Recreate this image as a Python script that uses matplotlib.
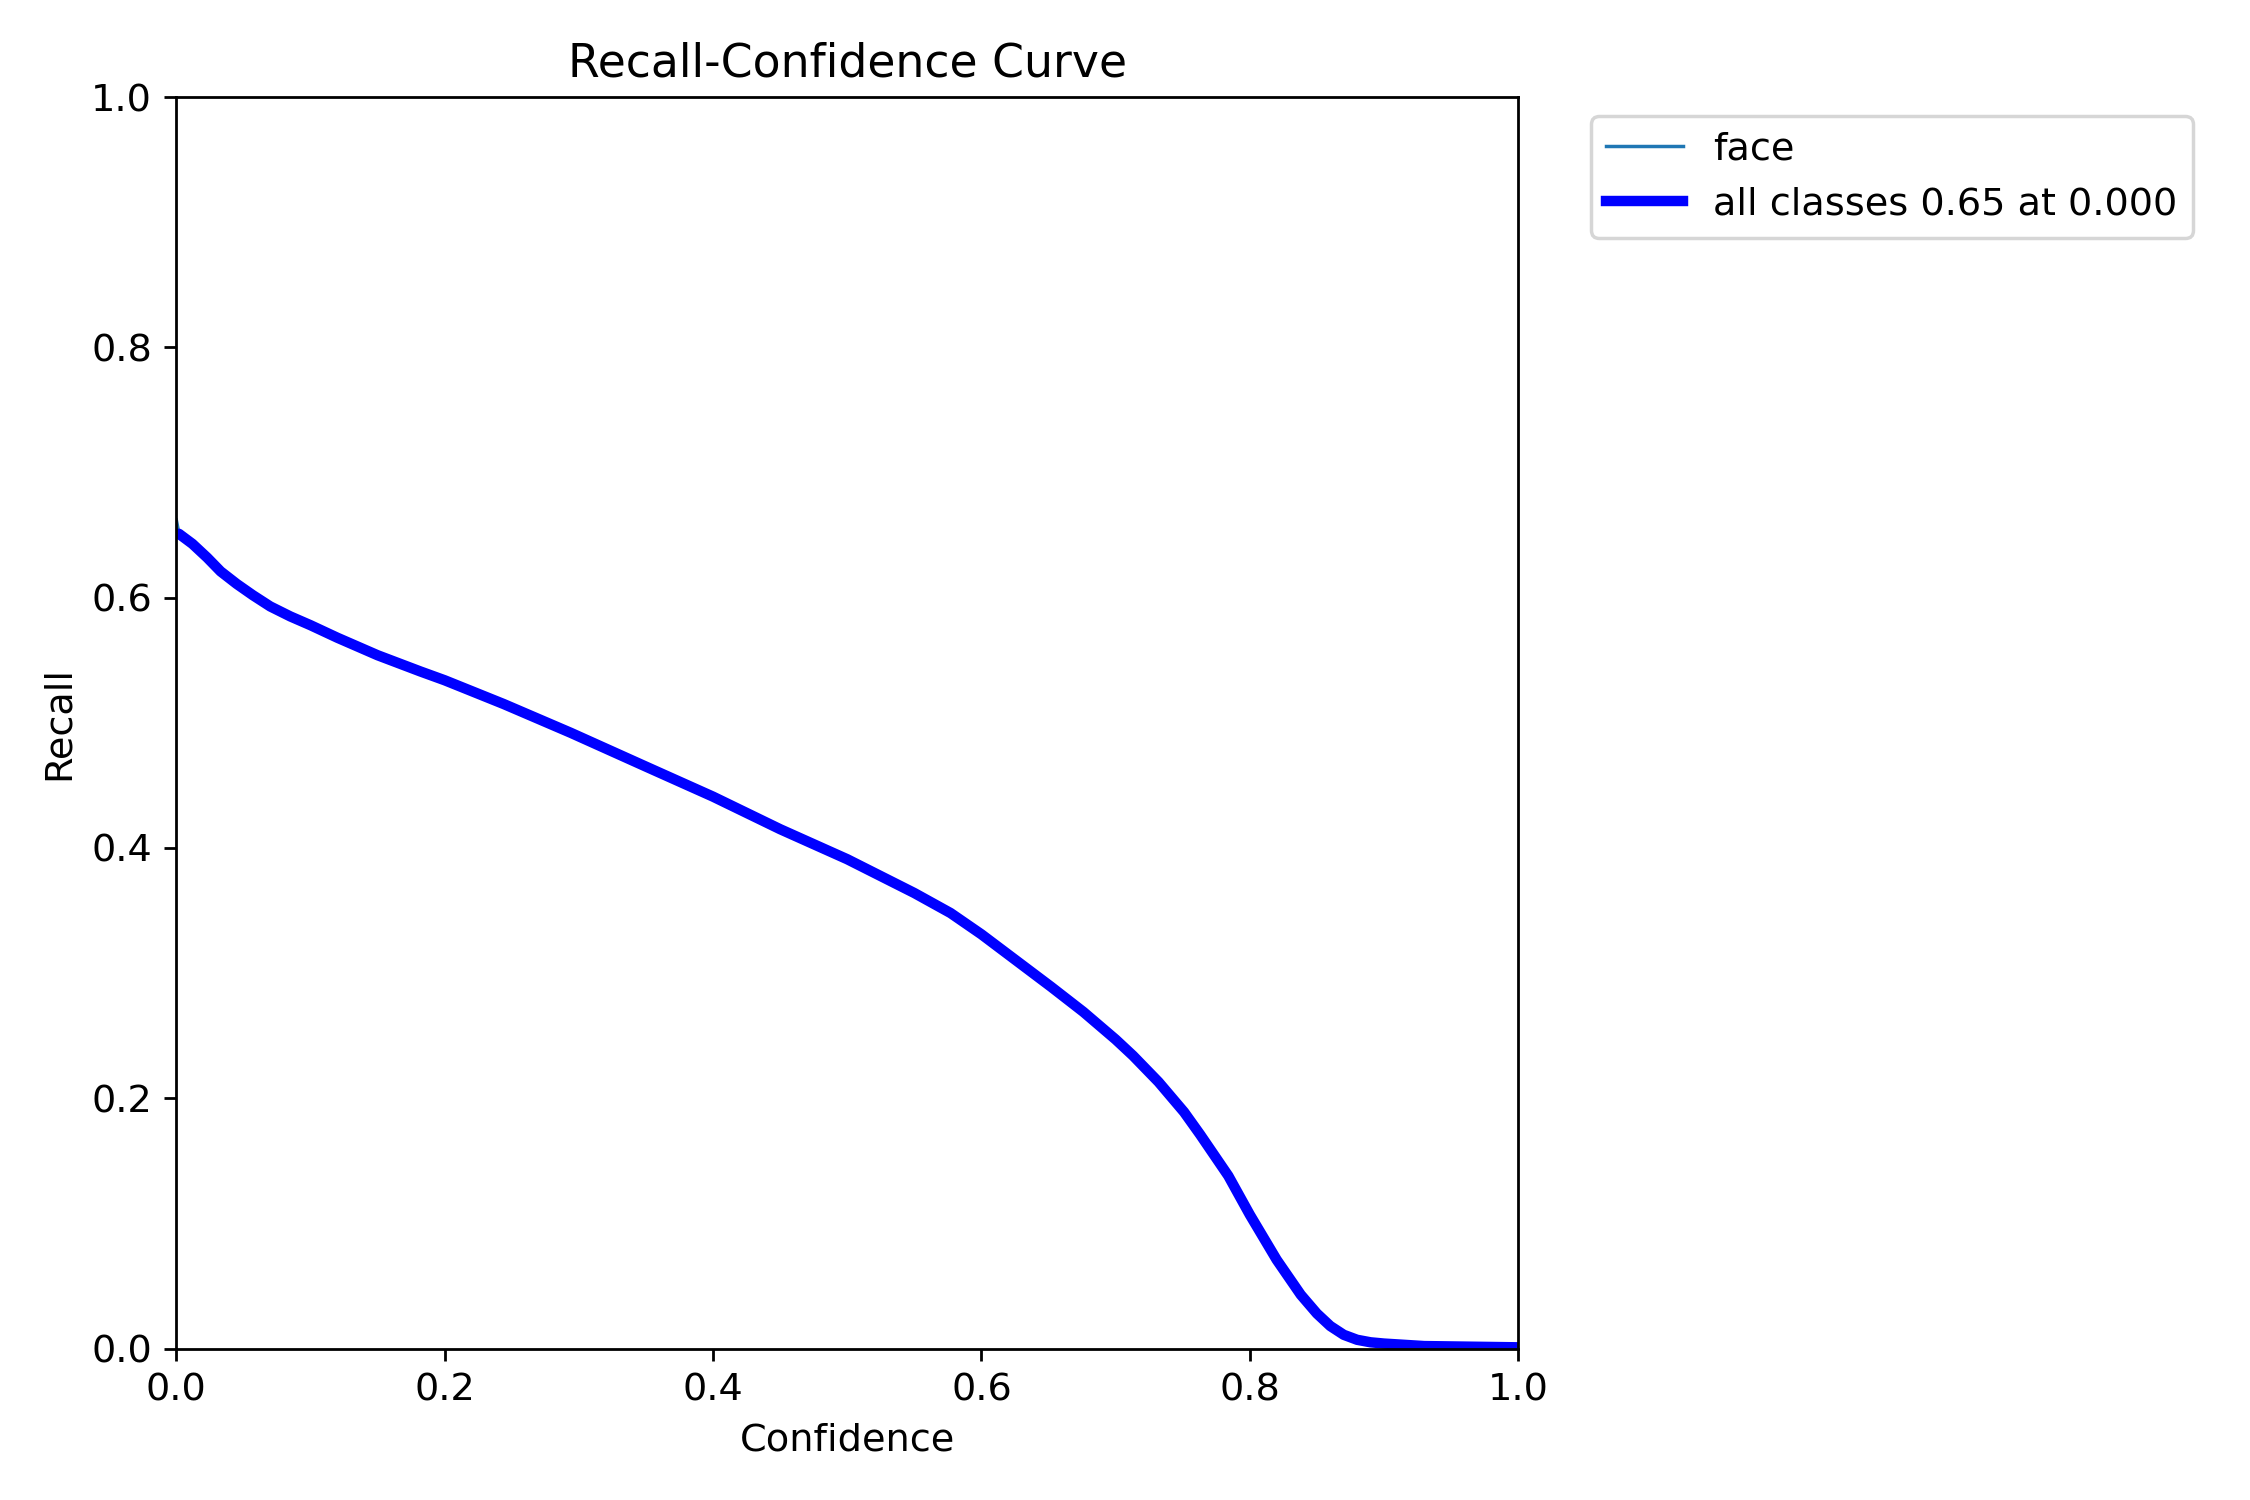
import matplotlib
matplotlib.use("Agg")
import matplotlib.pyplot as plt

plt.rcParams["font.size"] = 11

# confidence / recall values
conf = [0.0, 0.002, 0.012, 0.023, 0.033, 0.045, 0.057, 0.07, 0.085, 0.1, 0.12, 0.15,
        0.182, 0.2, 0.244, 0.294, 0.35, 0.4, 0.45, 0.5, 0.55, 0.577, 0.6, 0.626,
        0.652, 0.676, 0.7, 0.713, 0.732, 0.751, 0.763, 0.784, 0.8, 0.82, 0.838,
        0.85, 0.86, 0.87, 0.88, 0.89, 0.9, 0.93, 1.0]
recall_face = [0.662, 0.651, 0.643, 0.632, 0.621, 0.611, 0.602, 0.593, 0.585, 0.578,
               0.568, 0.554, 0.541, 0.534, 0.515, 0.492, 0.465, 0.441, 0.415, 0.391,
               0.364, 0.348, 0.331, 0.310, 0.289, 0.269, 0.247, 0.234, 0.213, 0.189,
               0.171, 0.138, 0.107, 0.071, 0.043, 0.028, 0.018, 0.011, 0.007, 0.005,
               0.004, 0.002, 0.001]
recall_all = [0.651] + recall_face[1:]
class_name = "face"
best_label = "all classes 0.65 at 0.000"

fig, ax = plt.subplots(1, 1, figsize=(9, 6), tight_layout=True)
ax.plot(conf, recall_face, linewidth=1, label=class_name)
ax.plot(conf, recall_all, linewidth=3, color="blue", label=best_label)
ax.set_xlabel("Confidence")
ax.set_ylabel("Recall")
ax.set_xlim(0, 1)
ax.set_ylim(0, 1)
ax.legend(bbox_to_anchor=(1.04, 1), loc="upper left")
ax.set_title("Recall-Confidence Curve")
fig.savefig("out.png", dpi=250)
